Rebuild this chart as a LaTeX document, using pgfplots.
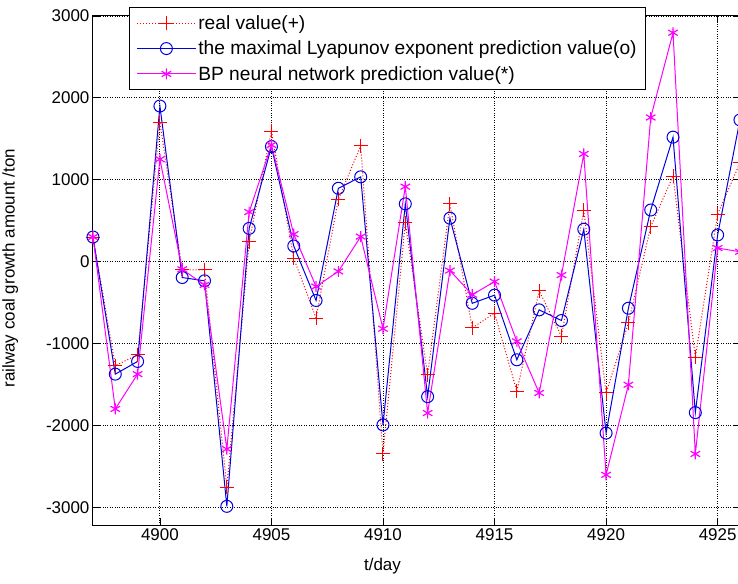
\documentclass[border=0pt]{standalone}
\usepackage{pgfplots}
\pgfplotsset{compat=1.18}
\usepackage{fontspec}
\setmainfont{Liberation Sans}

\definecolor{mred}{RGB}{255,0,0}
\definecolor{mblue}{RGB}{0,0,225}
\definecolor{mmag}{RGB}{255,0,255}

% day, real value, Lyapunov prediction, BP prediction
\pgfplotstableread{
day   real   lyap   bp
4897   300    300    300
4898 -1270  -1375  -1800
4899 -1140  -1220  -1375
4900  1700   1900   1250
4901  -100   -195    -95
4902  -100   -235   -285
4903 -2755  -2990  -2290
4904   245    405    605
4905  1595   1405   1425
4906    40    190    335
4907  -690   -475   -305
4908   760    895   -120
4909  1415   1035    305
4910 -2350  -1995   -820
4911   475    705    915
4912 -1385  -1650  -1850
4913   705    530   -110
4914  -810   -510   -405
4915  -630   -410   -245
4916 -1585  -1200   -975
4917  -355   -590  -1605
4918  -915   -720   -165
4919   625    395   1315
4920 -1605  -2095  -2605
4921  -750   -570  -1505
4922   425    630   1760
4923  1045   1520   2795
4924 -1170  -1845  -2350
4925   580    325    165
4926  1205   1730    120
}\datatable

\begin{document}
\begin{tikzpicture}
\begin{axis}[
    scale only axis,
    width=648pt, height=510pt,
    xmin=4897, xmax=4926,
    ymin=-3220, ymax=3000,
    xtick={4900,4905,...,4925},
    ytick={-3000,-2000,...,3000},
    /pgf/number format/assume math mode=true,
    /pgf/number format/set thousands separator={},
    tick align=inside,
    major tick length=7pt,
    tick style={black, line width=0.8pt},
    axis line style={line width=1pt},
    grid=major,
    major grid style={black, dotted, line width=0.9pt},
    ticklabel style={font=\fontsize{17}{19}\selectfont},
    xlabel={t/day},
    ylabel={railway coal growth amount /ton},
    every axis x label/.style={at={(rel axis cs:0.4475,-0.080)}, anchor=center,
        font=\fontsize{17}{19}\selectfont},
    every axis y label/.style={at={(rel axis cs:-0.128,0.505)}, rotate=90, anchor=center,
        font=\fontsize{17}{19}\selectfont},
    legend cell align=left,
    legend style={
        at={(rel axis cs:0.0556,1.0176)}, anchor=north west,
        font=\fontsize{19.2}{21}\selectfont,
        draw=black, line width=1pt, fill=white,
        inner xsep=7pt, inner ysep=6pt,
        row sep=6pt,
    },
    legend image code/.code={
        \draw[mark repeat=2,mark phase=2] plot coordinates {(0pt,0pt) (29.5pt,0pt) (59pt,0pt)};
    },
]
\addplot[mred, dotted, line width=1pt, mark=+, mark size=7pt,
    mark options={solid, mred, line width=1pt}] table[x=day, y=real] {\datatable};
\addplot[mblue, line width=1pt, mark=o, mark size=6pt,
    mark options={solid, mblue, line width=1pt}] table[x=day, y=lyap] {\datatable};
\addplot[mmag, line width=1pt, mark=asterisk, mark size=5.5pt,
    mark options={solid, mmag, line width=1.2pt}] table[x=day, y=bp] {\datatable};
\legend{real value(+), the maximal Lyapunov exponent prediction value(o), BP neural network prediction value(*)}
\coordinate (bl) at (rel axis cs:-0.1437,-0.1137);
\coordinate (tr) at (rel axis cs:0.997,1.0314);
\end{axis}
\pgfresetboundingbox
\path[use as bounding box] (bl) rectangle (tr);
\end{tikzpicture}
\end{document}
